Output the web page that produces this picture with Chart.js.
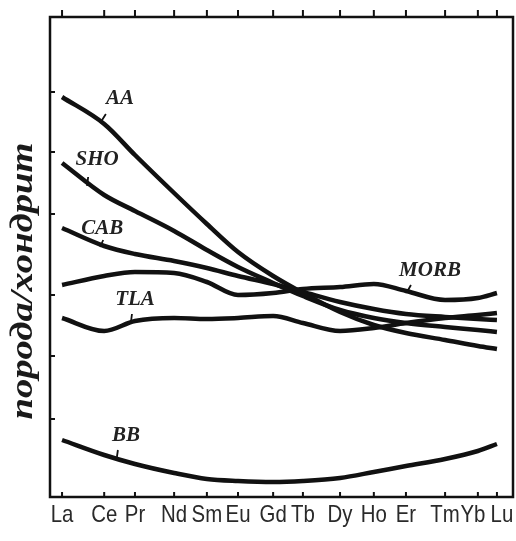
<!DOCTYPE html>
<html>
<head>
<meta charset="utf-8">
<style>
  html, body { margin: 0; padding: 0; background: #fff; }
  #wrap { width: 516px; height: 541px; }
</style>
</head>
<body>
<div id="wrap"><canvas id="reeChart" width="516" height="541"></canvas></div>
<script src="https://cdn.jsdelivr.net/npm/chart.js@4.4.0/dist/chart.umd.min.js"></script>
<script>
// REE spectra normalised to chondrite
const elements = ['La', 'Ce', 'Pr', 'Nd', 'Sm', 'Eu', 'Gd', 'Tb', 'Dy', 'Ho', 'Er', 'Tm', 'Yb', 'Lu'];
// spacing of the elements along the axis as drawn
const elementPos = [0, 1.26, 2.18, 3.35, 4.33, 5.26, 6.31, 7.2, 8.31, 9.32, 10.28, 11.45, 12.43, 13];

const aa   = [40.0, 37.3, 34.2, 30.4, 27.3, 24.5, 22.1, 20.4, 18.5, 17.2, 16.4, 15.7, 15.1, 14.8];
const sho  = [33.4, 30.2, 28.6, 26.6, 24.7, 23.0, 21.4, 20.1, 18.7, 17.9, 17.4, 17.0, 16.7, 16.5];
const cab  = [26.9, 25.1, 24.3, 23.6, 22.9, 22.1, 21.3, 20.5, 19.5, 18.8, 18.3, 18.0, 17.8, 17.7];
const morb = [21.2, 22.1, 22.5, 22.4, 21.5, 20.2, 20.4, 20.8, 21.0, 21.3, 20.6, 19.7, 19.9, 20.4];
const tla  = [17.9, 16.6, 17.6, 17.9, 17.8, 17.9, 18.1, 17.4, 16.6, 16.9, 17.4, 17.9, 18.2, 18.4];
const bb   = [5.7, 4.2, 3.3, 2.4, 1.8, 1.6, 1.5, 1.6, 1.9, 2.5, 3.1, 3.8, 4.6, 5.3];

const seriesNames = ['AA', 'SHO', 'CAB', 'TLA', 'MORB', 'BB'];
const seriesValues = [aa, sho, cab, tla, morb, bb];

// unlabelled ticks on the left axis
const yTickValues = [40.5, 34.5, 28.3, 20.2, 14.1, 7.8];

// where each name sits and the short mark tying it to its curve
const nameAt     = [[1.73, 39.8], [1.05, 33.7], [1.2, 26.8], [2.18, 19.7], [11.0, 22.6], [1.91, 6.1]];
const leaderFrom = [[1.14, 37.4], [0.75, 31.1], [1.14, 25.0], [2.06, 17.5], [10.31, 20.5], [1.64, 4.0]];
const leaderTo   = [[1.31, 38.3], [0.78, 32.0], [1.23, 25.7], [2.09, 18.3], [10.43, 21.2], [1.67, 4.7]];

// the last two element names are crowded, so they are pushed apart a little (px)
const labelNudge = { Yb: -5, Lu: 5 };

const yTitle = 'порода/хондрит';

const framePlugin = {
    id: 'frame',
    afterDatasetsDraw(chart) {
        const { ctx, chartArea: a, scales: { x, y } } = chart;
        ctx.save();
        ctx.strokeStyle = '#111';
        ctx.lineWidth = 2.5;
        ctx.strokeRect(a.left, a.top, a.right - a.left, a.bottom - a.top);

        ctx.lineWidth = 2;
        ctx.beginPath();
        elementPos.forEach(v => {
            const px = x.getPixelForValue(v);
            ctx.moveTo(px, a.top);
            ctx.lineTo(px, a.top - 7);
            ctx.moveTo(px, a.bottom);
            ctx.lineTo(px, a.bottom - 5);
        });
        yTickValues.forEach(v => {
            const py = y.getPixelForValue(v);
            ctx.moveTo(a.left, py);
            ctx.lineTo(a.left + 5, py);
        });
        ctx.stroke();

        // leader marks
        ctx.lineWidth = 1.8;
        ctx.beginPath();
        leaderFrom.forEach((p, i) => {
            ctx.moveTo(x.getPixelForValue(p[0]), y.getPixelForValue(p[1]));
            ctx.lineTo(x.getPixelForValue(leaderTo[i][0]), y.getPixelForValue(leaderTo[i][1]));
        });
        ctx.stroke();

        // curve names
        ctx.fillStyle = '#222';
        ctx.font = 'italic bold 21px "Liberation Serif", serif';
        ctx.textAlign = 'center';
        ctx.textBaseline = 'middle';
        seriesNames.forEach((name, i) => {
            ctx.fillText(name, x.getPixelForValue(nameAt[i][0]), y.getPixelForValue(nameAt[i][1]));
        });

        // element names under the axis, set a little condensed
        ctx.fillStyle = '#2a2a2a';
        ctx.font = '24px "Liberation Sans", Arial, sans-serif';
        ctx.textBaseline = 'alphabetic';
        elementPos.forEach((v, i) => {
            const name = elements[i];
            ctx.save();
            ctx.translate(x.getPixelForValue(v) + (labelNudge[name] || 0), a.bottom + 25);
            ctx.scale(0.85, 1);
            ctx.fillText(name, 0, 0);
            ctx.restore();
        });

        // vertical axis title, stretched to run along the axis
        ctx.fillStyle = '#1a1a1a';
        ctx.textBaseline = 'middle';
        ctx.font = 'italic bold 32px "Liberation Serif", serif';
        const w = ctx.measureText(yTitle).width;
        ctx.translate(24, y.getPixelForValue(21.6));
        ctx.rotate(-Math.PI / 2);
        ctx.scale(277 / w, 1);
        ctx.fillText(yTitle, 0, 0);
        ctx.restore();
    }
};

const ctx = document.getElementById('reeChart').getContext('2d');
const chart = new Chart(ctx, {
    type: 'line',
    data: {
        datasets: seriesValues.map((vals, i) => ({
            label: seriesNames[i],
            data: elementPos.map((p, j) => ({ x: p, y: vals[j] })),
            borderColor: '#111',
            borderWidth: 4.5,
            pointRadius: 0,
            fill: false,
            cubicInterpolationMode: 'monotone'
        }))
    },
    options: {
        responsive: false,
        animation: false,
        devicePixelRatio: 1,
        layout: { padding: { left: 50, top: 17, right: 3, bottom: 0 } },
        plugins: { legend: { display: false }, tooltip: { enabled: false } },
        scales: {
            x: {
                type: 'linear',
                min: -0.36,
                max: 13.48,
                grid: { display: false, drawTicks: false },
                border: { display: false },
                afterBuildTicks: scale => {
                    scale.ticks = elementPos.map(v => ({ value: v }));
                },
                afterFit: scale => {
                    scale.height = 44;
                },
                ticks: { display: false }
            },
            y: {
                display: false,
                min: 0,
                max: 48
            }
        }
    },
    plugins: [framePlugin]
});
</script>
</body>
</html>
